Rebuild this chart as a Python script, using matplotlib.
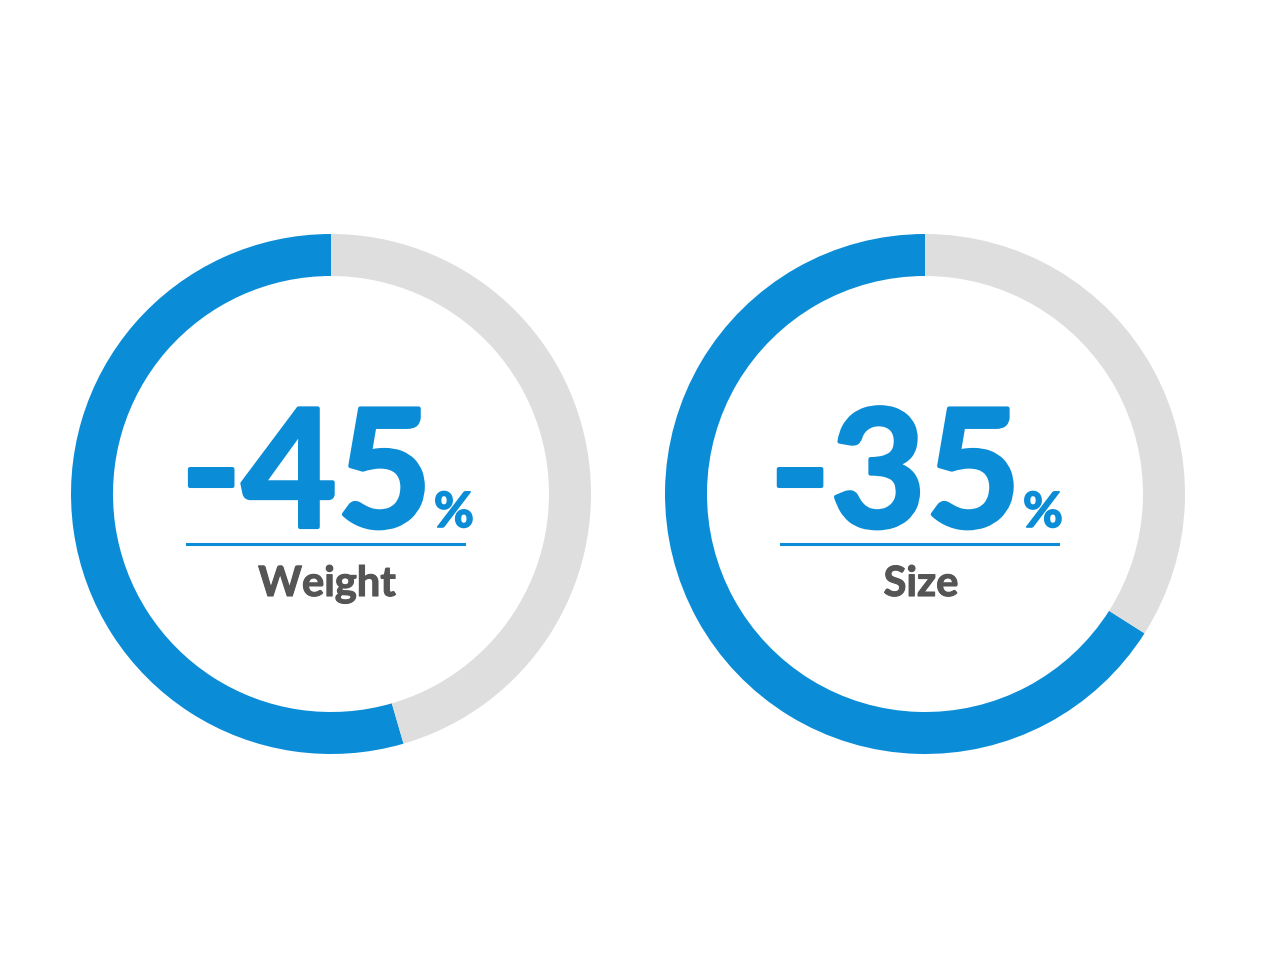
import matplotlib.pyplot as plt
import matplotlib.patheffects as pe

# chart values
metrics = ["Weight", "Size"]
reduction = [45, 35]        # percent reduction shown in the middle
blue_share = [54.5, 66]     # blue part of each ring
grey_share = [100 - b for b in blue_share]

blue = "#0A8DD6"
grey = "#DEDEDE"
text_grey = "#555555"

plt.rcParams['font.family'] = ['Lato', 'DejaVu Sans']

fig = plt.figure(figsize=(12.8, 9.6), dpi=100)
W, H = 1280, 960

# donut centres / radius in pixels
centres = [(331, 494), (925, 494)]
radius = 260
ring = 42

for i, (cx, cy) in enumerate(centres):
    ax = fig.add_axes([(cx - radius) / W, (H - cy - radius) / H,
                       2 * radius / W, 2 * radius / H])
    ax.pie([blue_share[i], grey_share[i]], colors=[blue, grey], startangle=90,
           counterclock=True, radius=1,
           wedgeprops=dict(width=ring / radius, linewidth=0))
    ax.set_xlim(-1, 1)
    ax.set_ylim(-1, 1)
    ax.set_aspect('equal')
    ax.axis('off')

# overlay for the labels, pixel coordinates
ov = fig.add_axes([0, 0, 1, 1])
ov.set_xlim(0, W)
ov.set_ylim(H, 0)
ov.axis('off')

# thicken the strokes a little, the original face is heavier than Lato Bold
fat_blue = [pe.withStroke(linewidth=3, foreground=blue)]
fat_grey = [pe.withStroke(linewidth=0.8, foreground=text_grey)]

num_right = [432, 1021]
for i, (cx, cy) in enumerate(centres):
    xr = num_right[i]
    ov.text(xr, 527, "-%d" % reduction[i], color=blue, fontsize=118,
            fontweight='bold', ha='right', va='baseline', path_effects=fat_blue)
    ov.text(xr + 2, 527, "%", color=blue, fontsize=35,
            fontweight='bold', ha='left', va='baseline',
            path_effects=[pe.withStroke(linewidth=1.2, foreground=blue)])
    ov.plot([cx - 144, cx + 133], [544, 544], color=blue, lw=2.2)
    ov.text(cx - 4, 596, metrics[i], color=text_grey, fontsize=30,
            fontweight='bold', ha='center', va='baseline', path_effects=fat_grey)

fig.savefig("out.png", dpi=100, facecolor='white')
